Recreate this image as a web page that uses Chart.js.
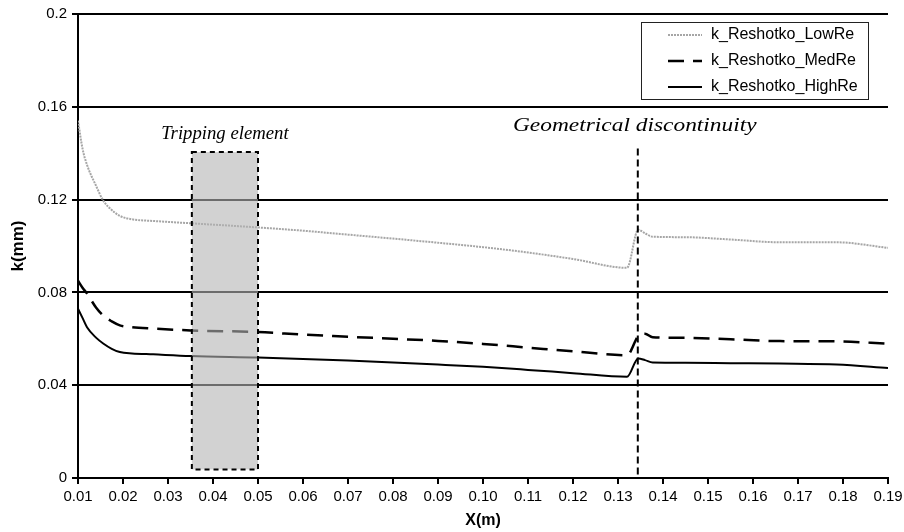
<!DOCTYPE html>
<html>
<head>
<meta charset="utf-8">
<script src="https://cdn.jsdelivr.net/npm/chart.js@4.4.1/dist/chart.umd.min.js"></script>
<style>
  html, body { margin: 0; padding: 0; background: #fff; }
</style>
</head>
<body>
<canvas id="grafico" width="904" height="532"></canvas>
<script>
// posiciones X (m) comunes a las tres curvas
const xPos = [0.010, 0.011, 0.012, 0.014, 0.0156, 0.0175, 0.0193, 0.022, 0.0267, 0.035, 0.05,
  0.06, 0.07, 0.08, 0.09, 0.10, 0.11, 0.12, 0.132, 0.1345, 0.136, 0.1377, 0.145, 0.155, 0.166, 0.1786, 0.19];

const lowRe = [0.154, 0.142, 0.135, 0.126, 0.1196, 0.1155, 0.113, 0.1115, 0.1108, 0.1098, 0.108,
  0.1066, 0.1049, 0.1032, 0.1014, 0.0995, 0.0972, 0.0944, 0.0906, 0.107, 0.1055, 0.104, 0.1038, 0.1028, 0.1016, 0.1016, 0.0992];

const medRe = [0.085, 0.082, 0.0795, 0.0735, 0.070, 0.0675, 0.0658, 0.065, 0.0644, 0.0636, 0.0629,
  0.0618, 0.0609, 0.060, 0.0591, 0.0578, 0.0562, 0.0546, 0.0529, 0.0612, 0.0622, 0.0607, 0.0604, 0.0598, 0.059, 0.0589, 0.0579];

const highRe = [0.073, 0.069, 0.065, 0.0605, 0.058, 0.0557, 0.0543, 0.0537, 0.0533, 0.0526, 0.0519,
  0.0513, 0.0506, 0.0498, 0.0489, 0.0479, 0.0466, 0.0452, 0.0436, 0.0515, 0.0508, 0.0498, 0.0497, 0.0495, 0.0493, 0.0489, 0.0474];

const seriesNames = ['k_Reshotko_LowRe', 'k_Reshotko_MedRe', 'k_Reshotko_HighRe'];

// zona del elemento de disparo y discontinuidad
const trippingX = [0.0353, 0.05];
const trippingY = [0.0037, 0.1405];
const discontX = 0.1344;
const discontTop = 0.142;

const grafico = document.querySelector('#grafico');
const sans = 'Liberation Sans, Arial, sans-serif';
const serif = 'Liberation Serif, Times New Roman, serif';

function puntos(vals) {
    return xPos.map((x, i) => ({ x: x, y: vals[i] }));
}

// texto estirado horizontalmente
function textoAncho(ctx, txt, cx, cy, sx) {
    ctx.save();
    ctx.translate(cx, cy);
    ctx.scale(sx, 1);
    ctx.fillText(txt, 0, 0);
    ctx.restore();
}

// dibujar rectangulo, linea vertical, textos y leyenda
const extras = {
    id: 'extras',
    afterDatasetsDraw(chart) {
        const ctx = chart.ctx;
        const x = chart.scales.x, y = chart.scales.y;
        ctx.save();
        const x0 = x.getPixelForValue(trippingX[0]), x1 = x.getPixelForValue(trippingX[1]);
        const y0 = y.getPixelForValue(trippingY[1]), y1 = y.getPixelForValue(trippingY[0]);
        ctx.fillStyle = 'rgba(180,180,180,0.6)';
        ctx.fillRect(x0, y0, x1 - x0, y1 - y0);
        ctx.strokeStyle = '#000';
        ctx.lineWidth = 2;
        ctx.setLineDash([5, 4]);
        ctx.strokeRect(x0, y0, x1 - x0, y1 - y0);

        const xd = x.getPixelForValue(discontX);
        const yt = y.getPixelForValue(discontTop);
        ctx.setLineDash([7, 4]);
        ctx.beginPath();
        ctx.moveTo(xd, yt);
        ctx.lineTo(xd, y.getPixelForValue(0));
        ctx.stroke();

        ctx.setLineDash([]);
        ctx.fillStyle = '#000';
        ctx.font = 'italic 18px ' + serif;
        ctx.textAlign = 'center';
        ctx.textBaseline = 'alphabetic';
        textoAncho(ctx, 'Tripping element', (x0 + x1) / 2, y0 - 13, 1.04);
        textoAncho(ctx, 'Geometrical discontinuity', xd - 3, yt - 18, 1.3);

        // leyenda
        const area = chart.chartArea;
        const bx = area.right - 247, by = area.top + 8, bw = 227, bh = 77;
        ctx.fillStyle = '#fff';
        ctx.fillRect(bx, by, bw, bh);
        ctx.strokeStyle = '#222';
        ctx.lineWidth = 1;
        ctx.strokeRect(bx + 0.5, by + 0.5, bw, bh);
        ctx.font = '16px ' + sans;
        ctx.textAlign = 'left';
        ctx.textBaseline = 'middle';
        chart.data.datasets.forEach((ds, i) => {
            const ry = by + 13 + i * 26;
            ctx.strokeStyle = ds.borderColor;
            ctx.lineWidth = ds.borderWidth;
            ctx.setLineDash(ds.borderDash || []);
            ctx.beginPath();
            ctx.moveTo(bx + 27, ry);
            ctx.lineTo(bx + 61, ry);
            ctx.stroke();
            ctx.setLineDash([]);
            ctx.fillStyle = '#000';
            ctx.fillText(ds.label, bx + 70, ry);
        });
        ctx.restore();
    }
};

const data = {
    datasets: [
        {
            label: seriesNames[0],
            data: puntos(lowRe),
            borderColor: '#a6a6a6',
            borderWidth: 2,
            borderDash: [2, 1]
        },
        {
            label: seriesNames[1],
            data: puntos(medRe),
            borderColor: '#000',
            borderWidth: 2.5,
            borderDash: [16, 9]
        },
        {
            label: seriesNames[2],
            data: puntos(highRe),
            borderColor: '#000',
            borderWidth: 2
        }
    ]
};

const config = {
    type: 'line',
    data: data,
    plugins: [extras],
    options: {
        responsive: false,
        animation: false,
        devicePixelRatio: 1,
        layout: { padding: { top: 13, right: 16, left: 0, bottom: 0 } },
        elements: {
            point: { radius: 0 },
            line: { cubicInterpolationMode: 'monotone', fill: false }
        },
        plugins: {
            legend: { display: false },
            tooltip: { enabled: false }
        },
        scales: {
            x: {
                type: 'linear',
                min: 0.01,
                max: 0.19,
                ticks: {
                    stepSize: 0.01,
                    autoSkip: false,
                    maxRotation: 0,
                    padding: 4,
                    color: '#000',
                    font: { family: sans, size: 15 },
                    callback: v => v.toFixed(2)
                },
                grid: { drawOnChartArea: false, drawTicks: true, tickLength: 6, color: '#000', lineWidth: 2 },
                border: { display: true, color: '#000', width: 2 },
                title: {
                    display: true,
                    text: 'X(m)',
                    color: '#000',
                    font: { family: sans, size: 16, weight: 'bold' },
                    padding: { top: 0, bottom: 2 }
                },
                afterFit: s => { s.height = 54; s.paddingRight = 0; s.paddingLeft = 0; }
            },
            y: {
                min: 0,
                max: 0.2,
                ticks: {
                    stepSize: 0.04,
                    padding: 5,
                    color: '#000',
                    font: { family: sans, size: 15 },
                    callback: v => String(+v.toFixed(2))
                },
                grid: { color: '#000', lineWidth: 2, tickLength: 6 },
                border: { display: true, color: '#000', width: 2 },
                title: {
                    display: true,
                    text: 'k(mm)',
                    color: '#000',
                    font: { family: sans, size: 17, weight: 'bold' },
                    padding: { top: 8, bottom: 0 }
                },
                afterFit: s => { s.width = 78; }
            }
        }
    }
};

//generar grafica
new Chart(grafico, config);
</script>
</body>
</html>
